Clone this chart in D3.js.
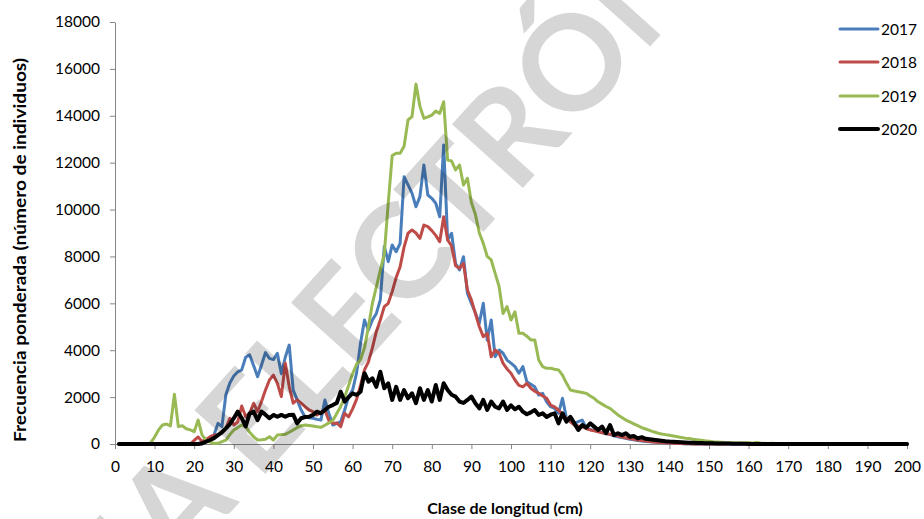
<!DOCTYPE html>
<html lang="es">
<head>
<meta charset="UTF-8">
<title>Frecuencia ponderada por clase de longitud</title>
<script src="https://cdn.jsdelivr.net/npm/d3@7"></script>
<style>
  body { margin: 0; background: #fff; }
  text { font-family: Lato, "Open Sans", sans-serif; fill: #000; }
</style>
</head>
<body>
<svg width="924" height="519"></svg>
<script>
// clase de longitud (cm), 1..200
var lengths = d3.range(1, 201);

var v2017 = [
  0,0,0,0,0,0,0,0,0,0,
  0,0,0,0,0,0,0,0,0,0,
  0,0,100,300,380,880,740,2100,2600,2900,
  3080,3160,3700,3800,3350,2870,3370,3900,3650,3600,
  3870,3000,3700,4220,2300,1880,1450,1160,1120,1100,
  1050,1020,1880,1310,810,880,950,1450,2020,2300,
  3020,4300,5290,4860,5290,5570,6140,8420,7780,8490,
  8200,8560,11400,11050,10700,10120,10550,11900,10620,10480,
  10270,9690,12750,8700,8990,7700,7420,7990,6430,6000,
  5600,5150,6000,4430,5290,3720,4010,3870,3580,3450,
  3300,3020,3300,2660,2550,2440,2090,2160,1800,1590,
  1520,1310,1950,1100,950,880,950,1020,670,620,
  580,540,490,450,400,350,310,280,240,200,
  180,150,130,110,100,80,70,60,50,40,
  30,25,20,15,10,0,0,0,0,0,
  0,0,0,0,0,0,0,0,0,0,
  0,0,0,0,0,0,0,0,0,0,
  0,0,0,0,0,0,0,0,0,0,
  0,0,0,0,0,0,0,0,0,0,
  0,0,0,0,0,0,0,0,0,0
];

var v2018 = [
  0,0,0,0,0,0,0,0,0,0,
  0,0,0,0,0,0,0,0,0,150,
  300,100,200,300,380,380,500,670,1100,810,
  950,1620,1160,1310,1740,1380,1810,2300,2730,2940,
  2590,2020,3450,2440,1740,1880,1740,1590,1450,1380,
  1240,1350,1450,1000,880,900,740,1310,1160,1500,
  1900,2500,3160,3500,4100,4800,5290,5860,6000,6500,
  7100,7560,8400,8990,9130,9000,8770,9340,9270,9100,
  8900,8630,9690,8700,8450,7600,7500,7700,6570,6140,
  5570,5000,4580,4720,3720,4010,3870,3440,3200,3020,
  2730,2500,2440,2590,2380,2250,2160,2050,1950,1660,
  1580,1450,1240,1100,950,810,770,740,660,600,
  560,520,480,450,420,380,340,300,260,230,
  200,170,150,130,110,90,75,60,50,40,
  30,25,20,15,10,5,0,0,0,0,
  0,0,0,0,0,0,0,0,0,0,
  0,0,0,0,0,0,0,0,0,0,
  0,0,0,0,0,0,0,0,0,0,
  0,0,0,0,0,0,0,0,0,0,
  0,0,0,0,0,0,0,0,0,0
];

var v2019 = [
  0,0,0,0,0,0,0,0,50,300,
  600,810,850,770,2120,740,780,650,600,525,
  1020,380,170,80,20,30,100,170,400,600,
  700,810,740,500,310,170,180,200,310,170,
  380,400,410,500,600,700,780,810,790,770,
  740,710,800,900,1000,1300,1600,2000,2500,3000,
  3400,3600,4100,5000,6000,6700,7420,8100,10270,12300,
  12400,12400,12700,13820,13960,15350,14400,13890,13950,14030,
  14200,14100,14600,12110,12070,11690,11900,11050,11330,10300,
  9800,9000,8560,8000,7850,7280,6710,5570,5860,5290,
  5640,4720,4720,4600,4440,4440,3580,3300,3230,3230,
  3190,3160,2940,2600,2300,2260,2230,2200,2160,2050,
  1950,1800,1700,1600,1520,1380,1240,1130,1020,940,
  860,780,700,640,580,520,470,430,400,370,
  340,310,280,250,230,205,185,165,140,120,
  100,90,75,60,55,50,45,50,40,60,
  30,70,40,30,20,35,15,10,15,5,
  0,0,0,0,0,0,0,0,0,0,
  0,0,0,0,0,0,0,0,0,0,
  0,0,0,0,0,0,0,0,0,0
];

var v2020 = [
  0,0,0,0,0,0,0,0,0,0,
  0,0,0,0,0,0,0,0,0,0,
  0,30,100,170,250,380,500,670,850,1100,
  1380,1100,750,1300,1380,1020,1380,1250,1100,1240,
  1160,1240,1160,1240,1250,880,1100,1150,1160,1240,
  1380,1310,1450,1590,1660,1750,2230,1810,2000,2160,
  2090,2230,3020,2660,2800,2440,3080,2380,2590,1880,
  2440,1880,2300,1950,2160,1740,2380,1880,2300,1810,
  2520,1880,2590,2300,2100,2020,1810,1750,1880,2020,
  1740,1520,1880,1450,1810,1590,1520,1810,1450,1650,
  1480,1590,1380,1270,1350,1450,1240,1310,1150,1250,
  1310,880,1310,950,1160,880,600,810,700,880,
  740,600,740,460,810,380,460,380,460,310,
  340,240,290,220,200,180,160,140,120,105,
  95,85,75,65,55,50,45,40,35,30,
  28,25,22,20,18,15,12,10,8,5,
  0,0,0,0,0,0,0,0,0,0,
  0,0,0,0,0,0,0,0,0,0,
  0,0,0,0,0,0,0,0,0,0,
  0,0,0,0,0,0,0,0,0,0
];

var years = ['2017', '2018', '2019', '2020'];
var seriesValues = [v2017, v2018, v2019, v2020];
var colors = ['#4a7ebb', '#be4b48', '#98b954', '#000000'];
var widths = [3, 3, 3, 4];
var xTicks = d3.range(0, 201, 10);
var yTicks = d3.range(0, 18001, 2000);

var svg = d3.select('svg');
var axisColor = '#868686';

var x = d3.scaleLinear().domain([0, 200]).range([115, 907]);
var y = d3.scaleLinear().domain([0, 18000]).range([444, 22]);

// ejes
var gy = svg.append('g')
  .attr('transform', 'translate(' + x(0) + ',0)')
  .call(d3.axisLeft(y).tickValues(yTicks).tickFormat(d3.format('d')).tickSize(5).tickSizeOuter(0).tickPadding(10));
var gx = svg.append('g')
  .attr('transform', 'translate(0,' + y(0) + ')')
  .call(d3.axisBottom(x).tickValues(xTicks).tickSize(5).tickSizeOuter(0).tickPadding(12));

[gx, gy].forEach(function (g) {
  g.select('.domain').attr('stroke', axisColor).attr('stroke-width', 1);
  g.selectAll('.tick line').attr('stroke', axisColor);
  g.selectAll('.tick text').attr('font-size', 15.5).attr('font-family', 'Lato, sans-serif').attr('fill', '#000');
});

// lineas
var line = d3.line()
  .x(function (d, i) { return x(lengths[i]); })
  .y(function (d) { return y(d); });

svg.append('g').selectAll('path')
  .data(seriesValues)
  .enter().append('path')
  .attr('d', line)
  .attr('fill', 'none')
  .attr('stroke', function (d, i) { return colors[i]; })
  .attr('stroke-width', function (d, i) { return widths[i]; })
  .attr('stroke-linejoin', 'round')
  .attr('stroke-linecap', 'round');

// leyenda
var legendY = [29, 62, 96, 129];
var lg = svg.append('g').selectAll('g')
  .data(years)
  .enter().append('g')
  .attr('transform', function (d, i) { return 'translate(840,' + legendY[i] + ')'; });
lg.append('line')
  .attr('x1', 0).attr('x2', 38)
  .attr('stroke', function (d, i) { return colors[i]; })
  .attr('stroke-width', function (d, i) { return widths[i]; })
  .attr('stroke-linecap', 'round');
lg.append('text')
  .attr('x', 41).attr('y', 5.5)
  .attr('font-size', 15.5)
  .text(function (d) { return d; });

// titulos de ejes
svg.append('text')
  .attr('transform', 'translate(26,250) rotate(-90)')
  .attr('text-anchor', 'middle')
  .attr('font-size', 17)
  .attr('font-weight', 'bold')
  .attr('textLength', 384)
  .attr('lengthAdjust', 'spacingAndGlyphs')
  .text('Frecuencia ponderada (número de individuos)');

svg.append('text')
  .attr('x', 505).attr('y', 514)
  .attr('text-anchor', 'middle')
  .attr('font-size', 16)
  .attr('font-weight', 'bold')
  .text('Clase de longitud (cm)');

// marca de agua
svg.append('text')
  .attr('transform', 'translate(-31,803) rotate(-48)')
  .attr('font-family', '"Liberation Serif", serif')
  .attr('font-size', 132)
  .attr('font-weight', 'bold')
  .style('fill', '#000')
  .attr('fill-opacity', 0.16)
  .text('COPIA ELECTRÓNICA');
</script>
</body>
</html>
